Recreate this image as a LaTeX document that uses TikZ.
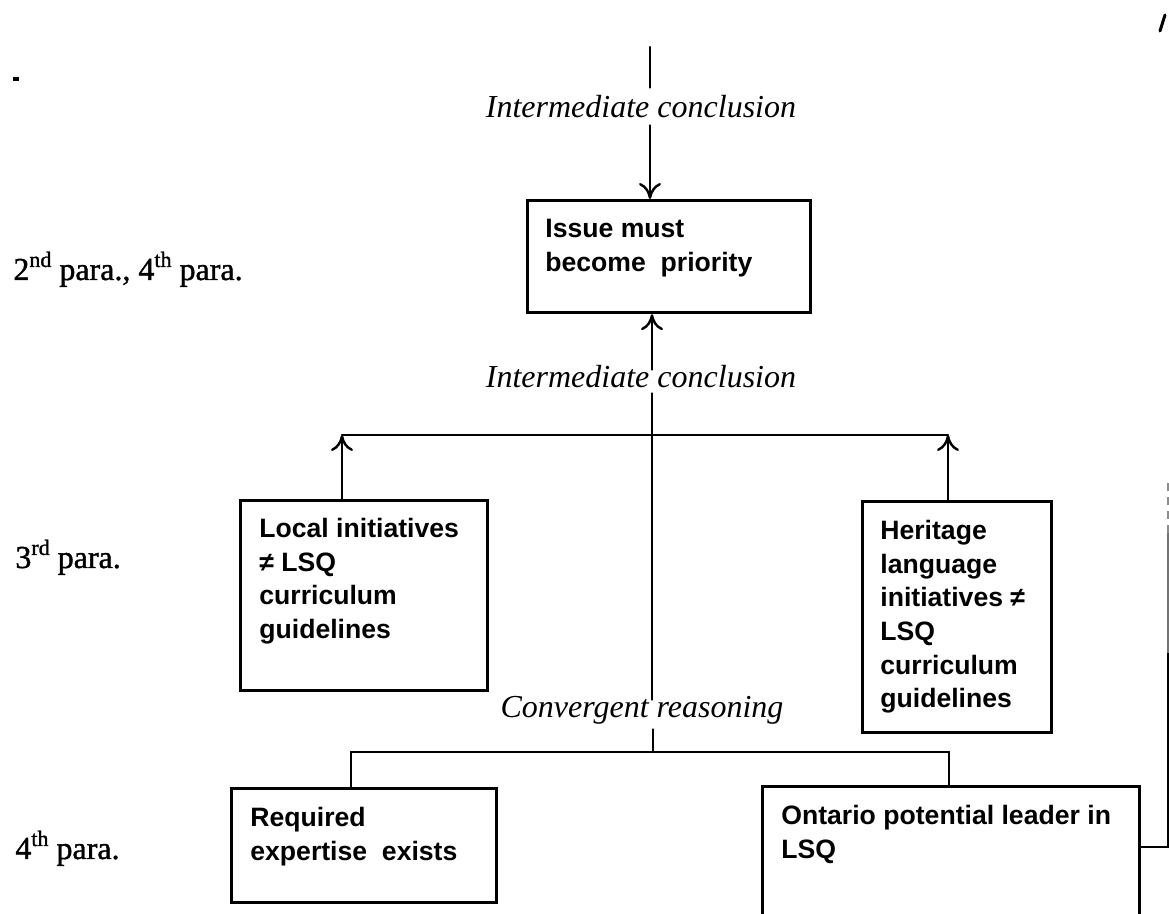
\documentclass[tikz,border=0pt]{standalone}
\usepackage{fontspec}
\setmainfont{Liberation Serif}
\newfontfamily\boxfamily{Liberation Sans}
\newfontfamily\parafamily{Liberation Serif}[FakeBold=1.2]
\usetikzlibrary{arrows.meta}

% ordinal suffix raised above the baseline
\newcommand\ordsup[1]{\raisebox{6.5pt}{\fontsize{11}{12}\selectfont #1}}

\begin{document}
\begin{tikzpicture}[x=0.5pt, y=-0.5pt,
  conn/.style={line width=1.2pt, line cap=round},
  tip/.style={-{Computer Modern Rightarrow[length=8pt,width=11pt]}},
  argbox/.style={draw, line width=1.6pt, inner sep=0pt, anchor=north west},
  boxtxt/.style={inner sep=0pt, anchor=north west, align=left,
    font=\boxfamily\bfseries\fontsize{13.3}{16.8}\selectfont},
  steplabel/.style={inner sep=0pt, anchor=base,
    font=\itshape\fontsize{16}{19}\selectfont},
  paralabel/.style={inner sep=0pt, anchor=base west,
    font=\parafamily\fontsize{16}{19}\selectfont}]

\useasboundingbox (0,0) rectangle (1169,914);
\clip (0,0) rectangle (1169,914);

% paragraph references on the left
\node[paralabel] (p1) at (13,280) {2\ordsup{nd} para., 4\ordsup{th} para.};
\node[paralabel] (p2) at (15,568) {3\ordsup{rd} para.};
\node[paralabel] (p3) at (15,859) {4\ordsup{th} para.};

% argument boxes
\node[argbox, minimum width=141.5pt, minimum height=56pt] (b1) at (526,199) {};
\node[boxtxt] (b1t) at ([shift={(19,20)}]b1.north west) {Issue must\\become\ \ priority};

\node[argbox, minimum width=123.5pt, minimum height=95pt] (b2) at (239,499) {};
\node[boxtxt] (b2t) at ([shift={(20,19)}]b2.north west) {Local initiatives\\≠ LSQ\\curriculum\\guidelines};

\node[argbox, minimum width=94.5pt, minimum height=115.5pt] (b3) at (861,500) {};
\node[boxtxt] (b3t) at ([shift={(19,20)}]b3.north west) {Heritage\\language\\initiatives ≠\\LSQ\\curriculum\\guidelines};

\node[argbox, minimum width=132.5pt, minimum height=57pt] (b4) at (230,787) {};
\node[boxtxt] (b4t) at ([shift={(20,20)}]b4.north west) {Required\\expertise\ \ exists};

\node[argbox, minimum width=188.5pt, minimum height=85pt] (b5) at (761,785) {};
\node[boxtxt] (b5t) at ([shift={(20,20)}]b5.north west) {Ontario potential leader in\\LSQ};

% reasoning labels
\node[steplabel, text height=15pt, text depth=3.5pt] (L1) at (641,118) {Intermediate conclusion};
\node[steplabel, text height=9pt, text depth=2.5pt] (L2) at (641,388) {Intermediate conclusion};
\node[steplabel, text height=9pt, text depth=5.5pt] (L3) at (642,718) {Convergent reasoning};

% junction points
\coordinate (top) at (650,47);
\coordinate (barL) at (342,435);
\coordinate (barC) at (652,435);
\coordinate (barR) at (948,435);
\coordinate (convL) at (351,752);
\coordinate (convC) at (653,752);
\coordinate (convR) at (949,752);
\coordinate (rc) at (1168,847);
\coordinate (rcMid) at (1168,653);
\coordinate (rcFaint) at (1168,533);
\coordinate (rcEnd) at (1168,480);

% incoming conclusion from above
\draw[conn] (top) -- (L1.north -| top);
\draw[conn, tip] (L1.south -| top) -- (b1.north -| top);

% intermediate conclusion into the priority box
\draw[conn, tip] (L2.north -| barC) -- (b1.south -| barC);
\draw[conn] (barC) -- (L2.south -| barC);

% linked premises bar
\draw[conn] (barL) -- (barR);
\draw[conn, tip] (b2.north -| barL) -- (barL);
\draw[conn, tip] (b3.north -| barR) -- (barR);

% trunk down to the convergent bar
\draw[conn] (barC) -- (L3.north -| barC);
\draw[conn] (L3.south -| convC) -- (convC);
\draw[conn] (convL) -- (convR);
\draw[conn] (convL) -- (b4.north -| convL);
\draw[conn] (convR) -- (b5.north -| convR);

% link leaving the right edge
\draw[conn] (b5.east |- rc) -- (rc) -- (rcMid);
\draw[line width=0.6pt, black!55] (rcMid) -- (rcFaint);
\draw[line width=0.6pt, black!45, dash pattern=on 4pt off 3pt] (rcFaint) -- (rcEnd);

% stray marks at the edges
\draw[line width=1.5pt, line cap=round] (1160,31) -- (1165,15);
\fill (13,77) rectangle (19,81);

\end{tikzpicture}
\end{document}
